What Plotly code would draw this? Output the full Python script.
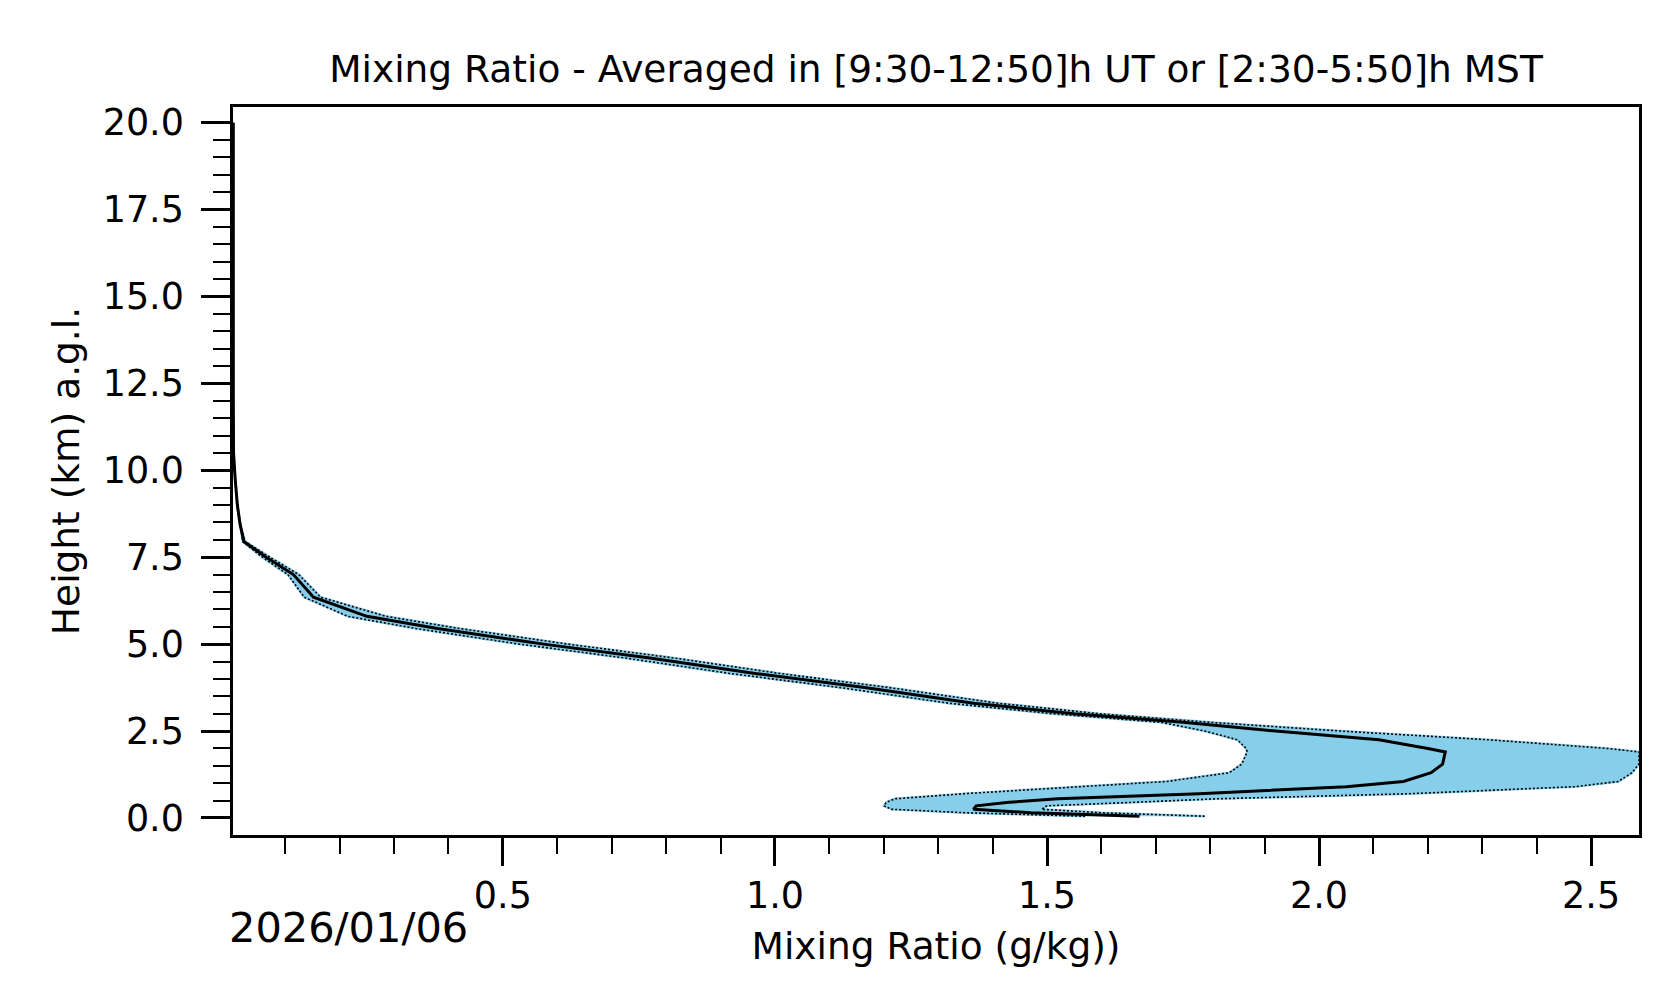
import plotly.graph_objects as go

# Height levels (km a.g.l.)
height = [0.05, 0.15, 0.25, 0.35, 0.45, 0.55, 0.7, 0.9, 1.05, 1.3, 1.55, 1.9,
          2.0, 2.25, 2.5, 2.75, 3.0, 3.3, 3.75, 4.15, 4.6, 5.0, 5.45, 5.8, 6.35,
          7.0, 7.5, 7.95, 8.45, 9.0, 9.75, 10.5, 12.0, 14.0, 16.0, 18.0, 20.0]

# Mean mixing ratio (g/kg)
mix_mean = [1.67, 1.47, 1.365, 1.37, 1.43, 1.52, 1.78, 2.05, 2.155, 2.206, 2.227, 2.232,
            2.20, 2.11, 1.92, 1.75, 1.55, 1.365, 1.165, 0.967, 0.77, 0.575, 0.38, 0.25, 0.152,
            0.115, 0.065, 0.024, 0.017, 0.012, 0.008, 0.005, 0.0045, 0.0045, 0.0045, 0.0045, 0.0045]

# Lower bound of the spread
mix_lo = [1.57, 1.35, 1.215, 1.20, 1.205, 1.22, 1.35, 1.57, 1.72, 1.835, 1.858, 1.868,
          1.866, 1.85, 1.79, 1.71, 1.51, 1.32, 1.12, 0.92, 0.725, 0.53, 0.34, 0.215, 0.135,
          0.105, 0.058, 0.022, 0.017, 0.012, 0.008, 0.005, 0.0045, 0.0045, 0.0045, 0.0045, 0.0045]

# Upper bound of the spread
mix_hi = [1.79, 1.60, 1.49, 1.50, 1.66, 1.81, 2.17, 2.47, 2.55, 2.575, 2.588, 2.588,
          2.53, 2.31, 2.04, 1.80, 1.595, 1.41, 1.21, 1.012, 0.815, 0.62, 0.42, 0.285, 0.165,
          0.125, 0.072, 0.026, 0.017, 0.012, 0.008, 0.005, 0.0045, 0.0045, 0.0045, 0.0045, 0.0045]

title_text = "Mixing Ratio - Averaged in [9:30-12:50]h UT or [2:30-5:50]h MST"
x_title = "Mixing Ratio (g/kg))"
y_title = "Height (km) a.g.l."
date_text = "2026/01/06"

FONT = "DejaVu Sans"
SKY = "#87CEEB"

fig = go.Figure()

# Shaded spread
fig.add_trace(go.Scatter(
    x=mix_lo + mix_hi[::-1], y=height + height[::-1],
    mode="lines", fill="toself", fillcolor=SKY,
    line=dict(color=SKY, width=2.5), hoverinfo="skip", showlegend=False))

# Dotted bounds
for arr in (mix_lo, mix_hi):
    fig.add_trace(go.Scatter(
        x=arr, y=height, mode="lines",
        line=dict(color="black", width=1.6, dash="2px,2px"),
        showlegend=False))

# Mean profile
fig.add_trace(go.Scatter(
    x=mix_mean, y=height, mode="lines",
    line=dict(color="black", width=3), showlegend=False))

fig.update_layout(
    width=1676, height=1003,
    margin=dict(l=225, r=45, t=99, b=176),
    paper_bgcolor="white", plot_bgcolor="white",
    font=dict(family=FONT, color="black", size=36),
    title=dict(text=title_text, x=0.5, xref="paper", xanchor="center",
               y=1 - 60.5 / 1003, yref="container", yanchor="middle",
               font=dict(family=FONT, size=37.5, color="black")),
    showlegend=False,
)

fig.update_xaxes(
    range=[0.004, 2.588], showgrid=False, zeroline=False,
    showline=True, linecolor="black", linewidth=2.5, mirror=True,
    ticks="outside", ticklen=28, tickwidth=2.5, tickcolor="black",
    tick0=0, dtick=0.5, tickformat=".1f",
    tickfont=dict(family=FONT, size=36.5, color="black"),
    ticklabelstandoff=-2,
    minor=dict(ticks="outside", ticklen=16, tickwidth=2, tickcolor="black",
               tick0=0, dtick=0.1, showgrid=False),
    title=dict(text=x_title, font=dict(family=FONT, size=37.5, color="black"), standoff=18),
)

fig.update_yaxes(
    range=[-0.49, 20.45], showgrid=False, zeroline=False,
    showline=True, linecolor="black", linewidth=2.5, mirror=True,
    ticks="outside", ticklen=29, tickwidth=2.5, tickcolor="black",
    tick0=0, dtick=2.5, tickformat=".1f",
    tickfont=dict(family=FONT, size=36.5, color="black"),
    ticklabelstandoff=10,
    minor=dict(ticks="outside", ticklen=17, tickwidth=2, tickcolor="black",
               tick0=0, dtick=0.5, showgrid=False),
    title=dict(text=y_title, font=dict(family=FONT, size=37.5, color="black"), standoff=12),
)

fig.add_annotation(
    text=date_text, xref="paper", yref="paper", x=-0.004, y=(827 - 919) / 728,
    xanchor="left", yanchor="middle", showarrow=False,
    font=dict(family=FONT, size=41.5, color="black"))

fig.write_html("out.html")
